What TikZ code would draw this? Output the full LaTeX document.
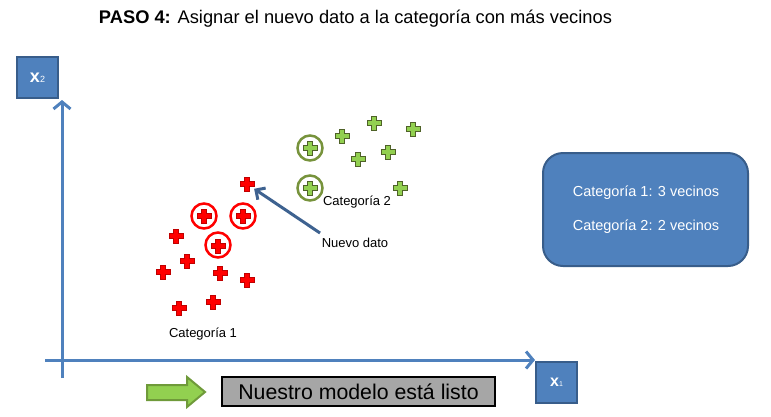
\documentclass[tikz,border=0pt]{standalone}
\usepackage{fontspec}
\setmainfont{Liberation Sans}
\usetikzlibrary{arrows.meta}
\definecolor{boxblue}{HTML}{4F81BD}
\definecolor{boxedge}{HTML}{385D8A}
\definecolor{axisblue}{HTML}{4F81BD}
\definecolor{ptred}{HTML}{FF0000}
\definecolor{ptredge}{HTML}{C00000}
\definecolor{ptgreen}{HTML}{92D050}
\definecolor{ptgedge}{HTML}{4F6228}
\definecolor{ringgreen}{HTML}{77933C}
\definecolor{arrgreen}{HTML}{92D050}
\definecolor{arrgedge}{HTML}{6F9A3A}
\definecolor{arrowdark}{HTML}{3E6290}
\definecolor{readygray}{HTML}{A6A6A6}
\tikzset{
  plusshape/.pic={\path[pic actions] (-7,-2.7) -- (-2.7,-2.7) -- (-2.7,-7) -- (2.7,-7) -- (2.7,-2.7) -- (7,-2.7) -- (7,2.7) -- (2.7,2.7) -- (2.7,7) -- (-2.7,7) -- (-2.7,2.7) -- (-7,2.7) -- cycle;},
  redplus/.style={fill=ptred, draw=ptredge, line width=0.7pt},
  greenplus/.style={fill=ptgreen, draw=ptgedge, line width=0.7pt},
  redring/.style={draw=ptred, line width=2.5pt},
  greenring/.style={draw=ringgreen, line width=2.5pt},
  axisline/.style={draw=axisblue, line width=3pt},
  axisbox/.style={draw=boxedge, fill=boxblue, line width=2.5pt, minimum size=41pt, inner sep=0pt, text=white},
  infobox/.style={draw=boxedge, fill=boxblue, line width=2pt, rounded corners=20pt, minimum width=205pt, minimum height=113pt},
  infotext/.style={text=white, font=\fontsize{14.5}{17}\selectfont},
  lbl/.style={font=\fontsize{13}{15}\selectfont, inner sep=0pt},
}
\begin{document}
\begin{tikzpicture}[x=1pt,y=-1pt]
\useasboundingbox (0,0) rectangle (771,416);
% title
\node[font=\fontsize{18.3}{20}\selectfont, inner sep=0pt] (title) at (355.5,19) {\textbf{PASO 4:} Asignar el nuevo dato a la categoría con más vecinos};
% axes
\coordinate (yfoot) at (62,378);
\coordinate (ytip) at (62,100);
\coordinate (xfoot) at (45,360);
\coordinate (xtip) at (535,360);
\draw[axisline, -{Straight Barb[length=7pt,width=17pt]}] (yfoot) -- (ytip);
\draw[axisline, -{Straight Barb[length=7pt,width=17pt]}] (xfoot) -- (xtip);
\node[axisbox] (x2) at (37.5,77.5) {{\fontsize{18}{18}\selectfont\textbf{x}}{\fontsize{9}{9}\selectfont 2}};
\node[axisbox] (x1) at (556.5,382.5) {{\fontsize{16}{16}\selectfont\textbf{x}}{\fontsize{7}{7}\selectfont 1}};
% rings
\draw[redring] (204,216) circle[radius=12.5pt];
\draw[redring] (243,216) circle[radius=12.5pt];
\draw[redring] (218,245) circle[radius=12.5pt];
\draw[greenring] (310,148) circle[radius=12.5pt];
\draw[greenring] (310,188) circle[radius=12.5pt];
% red points
\foreach \p in {(247,184),(204,216),(243,216),(218,246),(176,236),(187,261),(163,272),(220,273),(247,280),(213,302),(179,308)}
  \pic[redplus] at \p {plusshape};
% green points
\foreach \p in {(310,148),(310,188),(342,136),(374,123),(413,129),(358,159),(388,152),(400,188)}
  \pic[greenplus] at \p {plusshape};
% labels
\node[lbl] (cat1) at (203,334) {Categoría 1};
\node[lbl] (cat2) at (357,202) {Categoría 2};
\node[lbl] (nuevo) at (355,243) {Nuevo dato};
% arrow to new point
\coordinate (newpt) at (247,184);
\coordinate (arrstart) at (320,233);
\draw[draw=arrowdark, line width=3pt, shorten >=8.6pt, -{Straight Barb[length=7pt,width=14pt]}] (arrstart) -- (newpt);
% info box
\node[infobox] (info) at (645.5,209.5) {};
\node[infotext] (info1) at (646,193) {Categoría 1: 3 vecinos};
\node[infotext] (info2) at (646,227) {Categoría 2: 2 vecinos};
% bottom
\draw[fill=arrgreen, draw=arrgedge, line width=2pt] (147,385) -- (187,385) -- (187,377) -- (205,392) -- (187,407) -- (187,400) -- (147,400) -- cycle;
\node[draw=black, fill=readygray, line width=2pt, minimum width=273pt, minimum height=29pt, inner sep=0pt, font=\fontsize{21.3}{23}\selectfont] (ready) at (358.5,391.5) {Nuestro modelo está listo};
\end{tikzpicture}
\end{document}
